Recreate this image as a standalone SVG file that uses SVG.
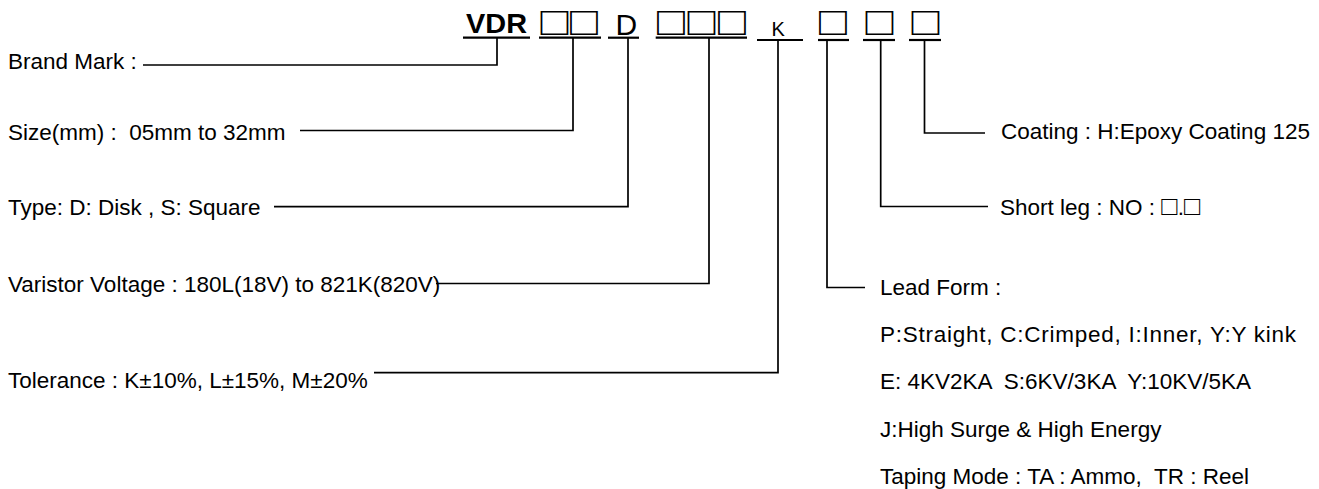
<svg xmlns="http://www.w3.org/2000/svg" width="1319" height="489" viewBox="0 0 1319 489">
<style>
text{font-family:"Liberation Sans",Arial,sans-serif;fill:#000;white-space:pre}
.lbl{font-size:22.5px}
.code{font-size:30px}
.bold{font-size:28px;font-weight:bold}
.k{font-size:20px}
.sq{font-size:40px}
.ss{font-size:27px}
.ul{stroke:#000;stroke-width:2.2;fill:none}
.ld{stroke:#000;stroke-width:1.7;fill:none}
</style>
<rect width="1319" height="489" fill="#fff"/>
<g id="code-vdr"><text class="bold" x="466" y="33" textLength="61" lengthAdjust="spacingAndGlyphs">VDR</text><line class="ul" x1="463" y1="37.7" x2="530" y2="37.7"/></g>
<g id="code-size">
<text class="sq" x="540.5" y="35" textLength="28" lengthAdjust="spacingAndGlyphs">□</text>
<text class="sq" x="570" y="35" textLength="28" lengthAdjust="spacingAndGlyphs">□</text>
<line class="ul" x1="539" y1="37.7" x2="601" y2="37.7"/></g>
<g id="code-d"><text class="code" x="615.6" y="35">D</text><line class="ul" x1="608" y1="37.7" x2="639" y2="37.7"/></g>
<g id="code-voltage">
<text class="sq" x="657" y="35" textLength="28" lengthAdjust="spacingAndGlyphs">□</text>
<text class="sq" x="687.5" y="35" textLength="28" lengthAdjust="spacingAndGlyphs">□</text>
<text class="sq" x="718" y="35" textLength="28" lengthAdjust="spacingAndGlyphs">□</text>
<line class="ul" x1="655.7" y1="37.7" x2="747" y2="37.7"/></g>
<g id="code-k"><text class="k" x="771.6" y="36">K</text><line class="ul" x1="757" y1="40" x2="803" y2="40"/></g>
<g id="code-lead"><text class="sq" x="819" y="35" textLength="28" lengthAdjust="spacingAndGlyphs">□</text><line class="ul" x1="818" y1="40" x2="849" y2="40"/></g>
<g id="code-short"><text class="sq" x="865.5" y="35" textLength="28" lengthAdjust="spacingAndGlyphs">□</text><line class="ul" x1="863" y1="40" x2="895" y2="40"/></g>
<g id="code-coating"><text class="sq" x="911.5" y="35" textLength="28" lengthAdjust="spacingAndGlyphs">□</text><line class="ul" x1="909" y1="40" x2="941" y2="40"/></g>

<g id="label-brand"><text class="lbl" x="8" y="69">Brand Mark :</text></g>
<g id="label-size"><text class="lbl" x="8" y="140">Size(mm) :  05mm to 32mm</text></g>
<g id="label-type"><text class="lbl" x="8" y="215">Type: D: Disk , S: Square</text></g>
<g id="label-voltage"><text class="lbl" x="8" y="292">Varistor Voltage : 180L(18V) to 821K(820V)</text></g>
<g id="label-tolerance"><text class="lbl" x="8" y="388">Tolerance : K±10%, L±15%, M±20%</text></g>
<g id="label-coating"><text class="lbl" x="1001" y="139">Coating : H:Epoxy Coating 125</text></g>
<g id="label-short"><text class="lbl" x="1000" y="215">Short leg : NO : <tspan class="ss">□</tspan>.<tspan class="ss">□</tspan></text></g>
<g id="label-lead">
<text class="lbl" x="880" y="295">Lead Form :</text>
<text class="lbl" x="880" y="342" textLength="416">P:Straight, C:Crimped, I:Inner, Y:Y kink</text>
<text class="lbl" x="880" y="389">E: 4KV2KA  S:6KV/3KA  Y:10KV/5KA</text>
<text class="lbl" x="880" y="437">J:High Surge &amp; High Energy</text>
<text class="lbl" x="880" y="484">Taping Mode : TA : Ammo,  TR : Reel</text>
</g>

<g id="connectors">
<polyline class="ld" points="143,65 497,65 497,38"/>
<polyline class="ld" points="300,130.5 573,130.5 573,38"/>
<polyline class="ld" points="274,206.7 628,206.7 628,38"/>
<polyline class="ld" points="436,283.5 709,283.5 709,38"/>
<polyline class="ld" points="374,372.7 778,372.7 778,40"/>
<polyline class="ld" points="865,287.5 827,287.5 827,40"/>
<polyline class="ld" points="988,206.5 880.7,206.5 880.7,40"/>
<polyline class="ld" points="985,133 924.5,133 924.5,40"/>
</g>
</svg>
